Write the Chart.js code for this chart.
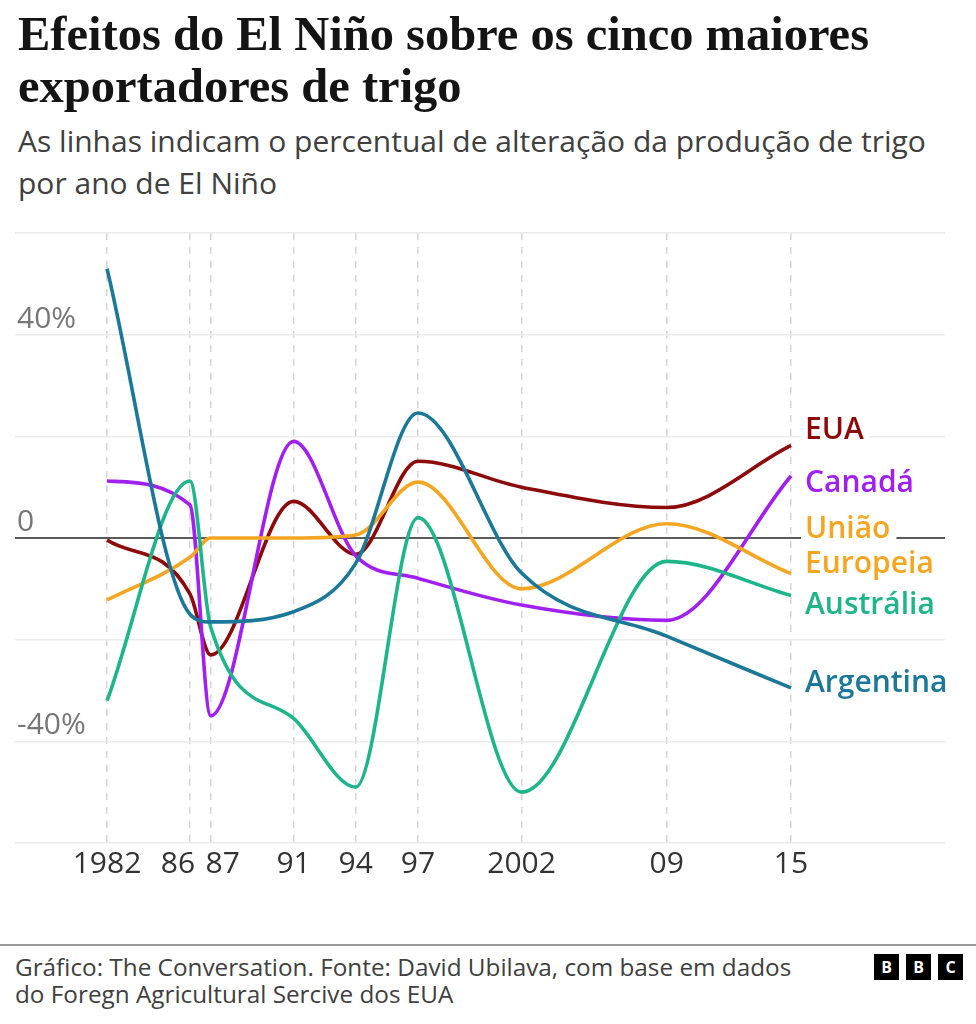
<!DOCTYPE html>
<html><head><meta charset="utf-8">
<script src="https://cdn.jsdelivr.net/npm/chart.js@4"></script>
<style>
body{margin:0;background:#fff;width:976px;height:1024px;position:relative;overflow:hidden;font-family:"Open Sans",sans-serif}
#title{position:absolute;left:18px;top:8px;font-family:"Liberation Serif",serif;font-weight:bold;font-size:48.5px;line-height:52px;color:#141414;margin:0;white-space:nowrap}
#sub{position:absolute;left:18px;top:120px;font-size:30px;line-height:42px;color:#404040;white-space:nowrap;margin:0}
#wrap{position:absolute;left:0;top:220px;width:976px;height:680px}
#rule{position:absolute;left:0;top:944px;width:976px;height:2px;background:#9a9a9a}
#foot{position:absolute;left:15px;top:953px;font-size:24.3px;line-height:27px;color:#404040;margin:0;white-space:nowrap}
.bbc{position:absolute;top:954px;width:25px;height:26px;background:#000;color:#fff;font:bold 16px "Open Sans",sans-serif;text-align:center;line-height:26px}
</style>
</head><body>
<h1 id="title">Efeitos do El Niño sobre os cinco maiores<br>exportadores de trigo</h1>
<p id="sub">As linhas indicam o percentual de alteração da produção de trigo<br>por ano de El Niño</p>
<div id="wrap"><canvas id="c"></canvas></div>
<div id="rule"></div>
<p id="foot">Gráfico: The Conversation. Fonte: David Ubilava, com base em dados<br>do Foregn Agricultural Sercive dos EUA</p>
<div class="bbc" style="left:874px">B</div>
<div class="bbc" style="left:906px">B</div>
<div class="bbc" style="left:938px">C</div>
<script>
// ---- data ----
const years = [1982, 1986, 1987, 1991, 1994, 1997, 2002, 2009, 2015];
const yearLabels = ['1982', '86', '87', '91', '94', '97', '2002', '09', '15'];
const argentina = [53, -15, -16.5, -14.5, -5, 24.6, -6.9, -19.3, -29.5];
const australia = [-32, 11.2, -17.5, -35.5, -49, 4, -50, -4.6, -11.3];
const uniaoEuropeia = [-12.2, -3.8, 0, 0, 0.6, 11, -10, 2.8, -7];
const canada = [11.2, 6.5, -35, 19, -3.5, -7.9, -13.2, -16.2, 12.2];
const eua = [-0.4, -11, -23, 7.2, -3.2, 15.1, 10, 6, 18.2];
const yTickValues = [40, 0, -40];
const yTickLabels = ['40%', '0', '-40%'];

// ---- styling ----
const series = [
  {name: 'Argentina', data: argentina, color: '#1b7898', label: ['Argentina'], anchor: [-28.6]},
  {name: 'Austrália', data: australia, color: '#1fb58a', label: ['Austrália'], anchor: [-13.2]},
  {name: 'União Europeia', data: uniaoEuropeia, color: '#f4a623', label: ['União', 'Europeia'], anchor: [1.6, -5.3]},
  {name: 'Canadá', data: canada, color: '#a11ff0', label: ['Canadá'], anchor: [10.8]},
  {name: 'EUA', data: eua, color: '#8c0a0a', label: ['EUA'], anchor: [21.1]}
];
// horizontal nudges (px) for crowded x tick labels
const xLabelNudge = {1986: -12, 1987: 12};

const axisLabelPlugin = {
  id: 'axisLabels',
  beforeDatasetsDraw(chart) {
    const {ctx, chartArea} = chart;
    const y = chart.scales.y, x = chart.scales.x;
    ctx.save();
    ctx.font = '30px "Open Sans", sans-serif';
    ctx.fillStyle = '#777';
    ctx.textAlign = 'left';
    ctx.textBaseline = 'alphabetic';
    yTickValues.forEach((v, i) => {
      ctx.fillText(yTickLabels[i], 17, y.getPixelForValue(v) - 7);
    });
    ctx.font = '30px "Open Sans", sans-serif';
    ctx.fillStyle = '#333';
    ctx.textAlign = 'center';
    years.forEach((v, i) => {
      ctx.fillText(yearLabels[i], x.getPixelForValue(v) + (xLabelNudge[v] || 0), chartArea.bottom + 30);
    });
    ctx.restore();
  }
};

const endLabelPlugin = {
  id: 'endLabels',
  afterDatasetsDraw(chart) {
    const {ctx} = chart;
    const xs = chart.scales.x, ys = chart.scales.y;
    const x0 = xs.getPixelForValue(years[years.length - 1]) + 14;
    ctx.save();
    ctx.font = '600 30px "Open Sans", sans-serif';
    ctx.textAlign = 'left';
    ctx.textBaseline = 'middle';
    series.forEach(s => {
      s.label.forEach((t, i) => {
        const yy = ys.getPixelForValue(s.anchor[i]);
        const w = ctx.measureText(t).width;
        ctx.fillStyle = '#fff';
        ctx.fillRect(x0 - 4, yy - 15, w + 10, 30);
        ctx.fillStyle = s.color;
        ctx.fillText(t, x0, yy);
      });
    });
    ctx.restore();
  }
};

new Chart(document.getElementById('c'), {
  type: 'line',
  data: {
    datasets: series.map(s => ({
      label: s.name,
      data: years.map((x, i) => ({x: x, y: s.data[i]})),
      borderColor: s.color,
      borderWidth: 3.6,
      pointRadius: 0,
      fill: false,
      cubicInterpolationMode: 'monotone'
    }))
  },
  options: {
    responsive: true,
    maintainAspectRatio: false,
    animation: false,
    layout: {padding: {left: 15, right: 31, top: 13, bottom: 17}},
    plugins: {legend: {display: false}, tooltip: {enabled: false}},
    scales: {
      x: {
        type: 'linear',
        min: 1977.56,
        max: 2022.43,
        afterBuildTicks: s => { s.ticks = years.map(v => ({value: v})); },
        afterFit: s => { s.height = 40; },
        ticks: {display: false},
        grid: {color: '#d6d6d6', lineWidth: 1.5, drawTicks: false},
        border: {display: false, dash: [7, 7]}
      },
      y: {
        min: -60,
        max: 60,
        afterFit: s => { s.width = 0; },
        ticks: {stepSize: 20, display: false},
        grid: {
          drawTicks: false,
          color: c => c.tick.value === 0 ? '#5a5a5a' : '#ebebeb',
          lineWidth: c => c.tick.value === 0 ? 2 : 1.5
        },
        border: {display: false}
      }
    }
  },
  plugins: [axisLabelPlugin, endLabelPlugin]
});
</script>
</body></html>
